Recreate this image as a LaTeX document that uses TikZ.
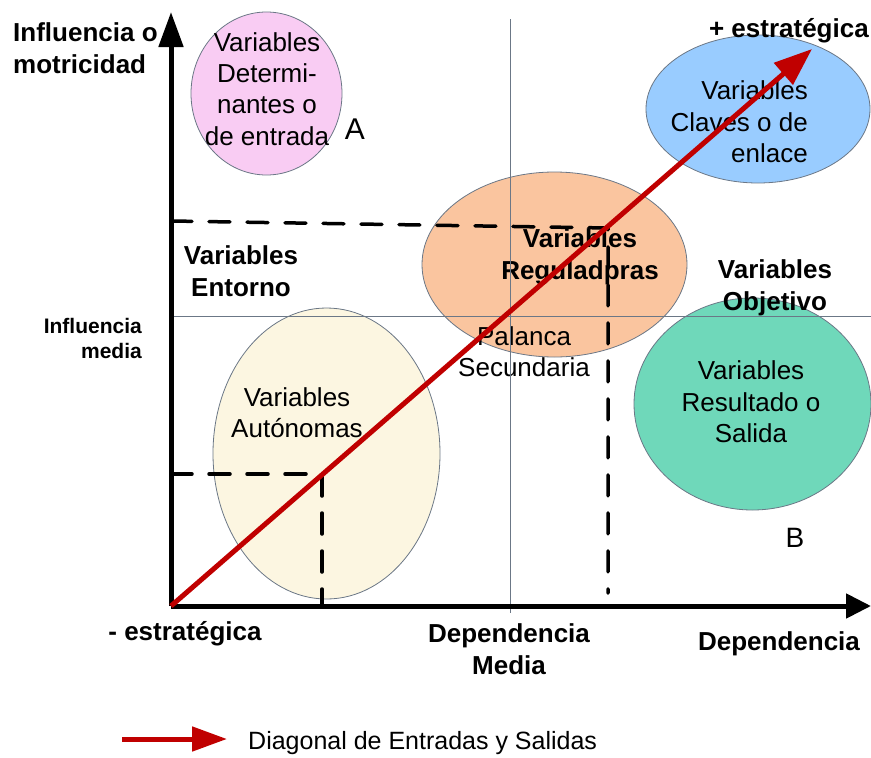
\documentclass[tikz,border=0pt]{standalone}
\usepackage{fontspec}
\setmainfont{Liberation Sans}
\usetikzlibrary{shapes.geometric,arrows.meta,positioning}
\definecolor{determ}{HTML}{F9CCF3}
\definecolor{claves}{HTML}{99CCFF}
\definecolor{regul}{HTML}{FAC59F}
\definecolor{auton}{HTML}{FCF6E1}
\definecolor{result}{HTML}{6FD8BA}
\definecolor{diag}{HTML}{C00000}
\definecolor{guia}{HTML}{6B7786}

\begin{document}
\begin{tikzpicture}[%
    x=1pt, y=-1pt,
    blob/.style={ellipse, draw=guia, line width=0.8pt, inner sep=0pt},
    txt/.style={align=center, font=\fontsize{26}{31.3}\selectfont, inner sep=0pt},
    lbl/.style={align=center, font=\fontsize{26}{32}\selectfont\bfseries, inner sep=0pt},
    guide/.style={guia, line width=1pt},
    proj/.style={black, line width=3.5pt, line cap=round, dash pattern=on 21pt off 17pt},
    axis/.style={line width=5pt, -{Triangle[length=35pt,width=24pt]}},
    diagonal/.style={diag, line width=5pt, -{Triangle[length=38pt,width=28pt]}}
  ]
  \useasboundingbox (0,0) rectangle (871,758);

  \node[blob, fill=determ, minimum width=151pt, minimum height=163pt] (det) at (266.5,93.5) {};
  \node[blob, fill=claves, minimum width=224pt, minimum height=148pt] (cla) at (758,109) {};
  \node[blob, fill=auton, minimum width=227pt, minimum height=291pt] (aut) at (326.5,453.5) {};
  \node[blob, fill=regul, minimum width=265pt, minimum height=185pt] (reg) at (554.5,264.5) {};
  \node[blob, fill=result, minimum width=237pt, minimum height=212pt] (res) at (752.5,404) {};

  \node[txt] (tdet) at (267,89) {Variables\\Determi-\\nantes o\\de entrada};
  \node[txt, font=\fontsize{30}{36}\selectfont] (tA) at (355,129) {A};
  \node[txt, align=right, anchor=east] (tcla) at (808,122) {Variables\\Claves o de\\enlace};
  \node[lbl] (treg) at (580,257) {Variables\\Reguladpras};
  \node[txt] (tpal) at (524,352) {Palanca\\Secundaria};
  \node[txt] (taut) at (297,413) {Variables\\Autónomas};
  \node[txt] (tres) at (751,402) {Variables\\Resultado o\\Salida};
  \node[txt, font=\fontsize{28}{34}\selectfont] (tB) at (795,538) {B};

  \node[lbl, align=left, anchor=west] (tinf) at (13,48) {Influencia o\\motricidad};
  \node[lbl] (tent) at (241,271) {Variables\\Entorno};
  \node[lbl, align=right, anchor=east, font=\fontsize{21}{25}\selectfont\bfseries] (tmed) at (142,338) {Influencia\\media};
  \node[lbl, anchor=east] (tmas) at (869,31) {+ estratégica};
  \node[lbl] (tobj) at (775,288) {Variables\\Objetivo};
  \node[lbl] (tmenos) at (185,634) {- estratégica};
  \node[lbl] (tdepm) at (509,649) {Dependencia\\Media};
  \node[lbl] (tdep) at (779,644) {Dependencia};

  \coordinate (O) at (171,606);
  \coordinate (ytip) at (171,12);
  \coordinate (xtip) at (871,606);
  \coordinate (mv top) at (510,19);
  \coordinate (mv bot) at (510,613);
  \coordinate (mh l) at (171,316);
  \coordinate (mh r) at (871,316);
  \coordinate (hi y) at (171,221);
  \coordinate (hi c) at (608,228);
  \coordinate (hi x) at (608,593);
  \coordinate (lo y) at (171,474);
  \coordinate (lo c) at (322,474);
  \coordinate (lo x) at (322,606);
  \coordinate (dtip) at (812,49);

  \draw[guide] (mv top) -- (mv bot);
  \draw[guide] (mh l) -- (mh r);
  \draw[proj] (hi y) -- (hi c) -- (hi x);
  \draw[proj] (lo y) -- (lo c) -- (lo x);

  \draw[axis] (O) -- (ytip);
  \draw[axis, -{Triangle[length=25pt,width=24pt]}] (O) -- (xtip);
  \draw[diagonal] (O) -- (dtip);

  \coordinate (lg a) at (122,739);
  \coordinate (lg b) at (227,739);
  \draw[diagonal, -{Triangle[length=35pt,width=24pt]}] (lg a) -- (lg b);
  \node[txt, font=\fontsize{25}{30}\selectfont, right=21pt of lg b, yshift=-4pt] (tlg) {Diagonal de Entradas y Salidas};
\end{tikzpicture}
\end{document}
